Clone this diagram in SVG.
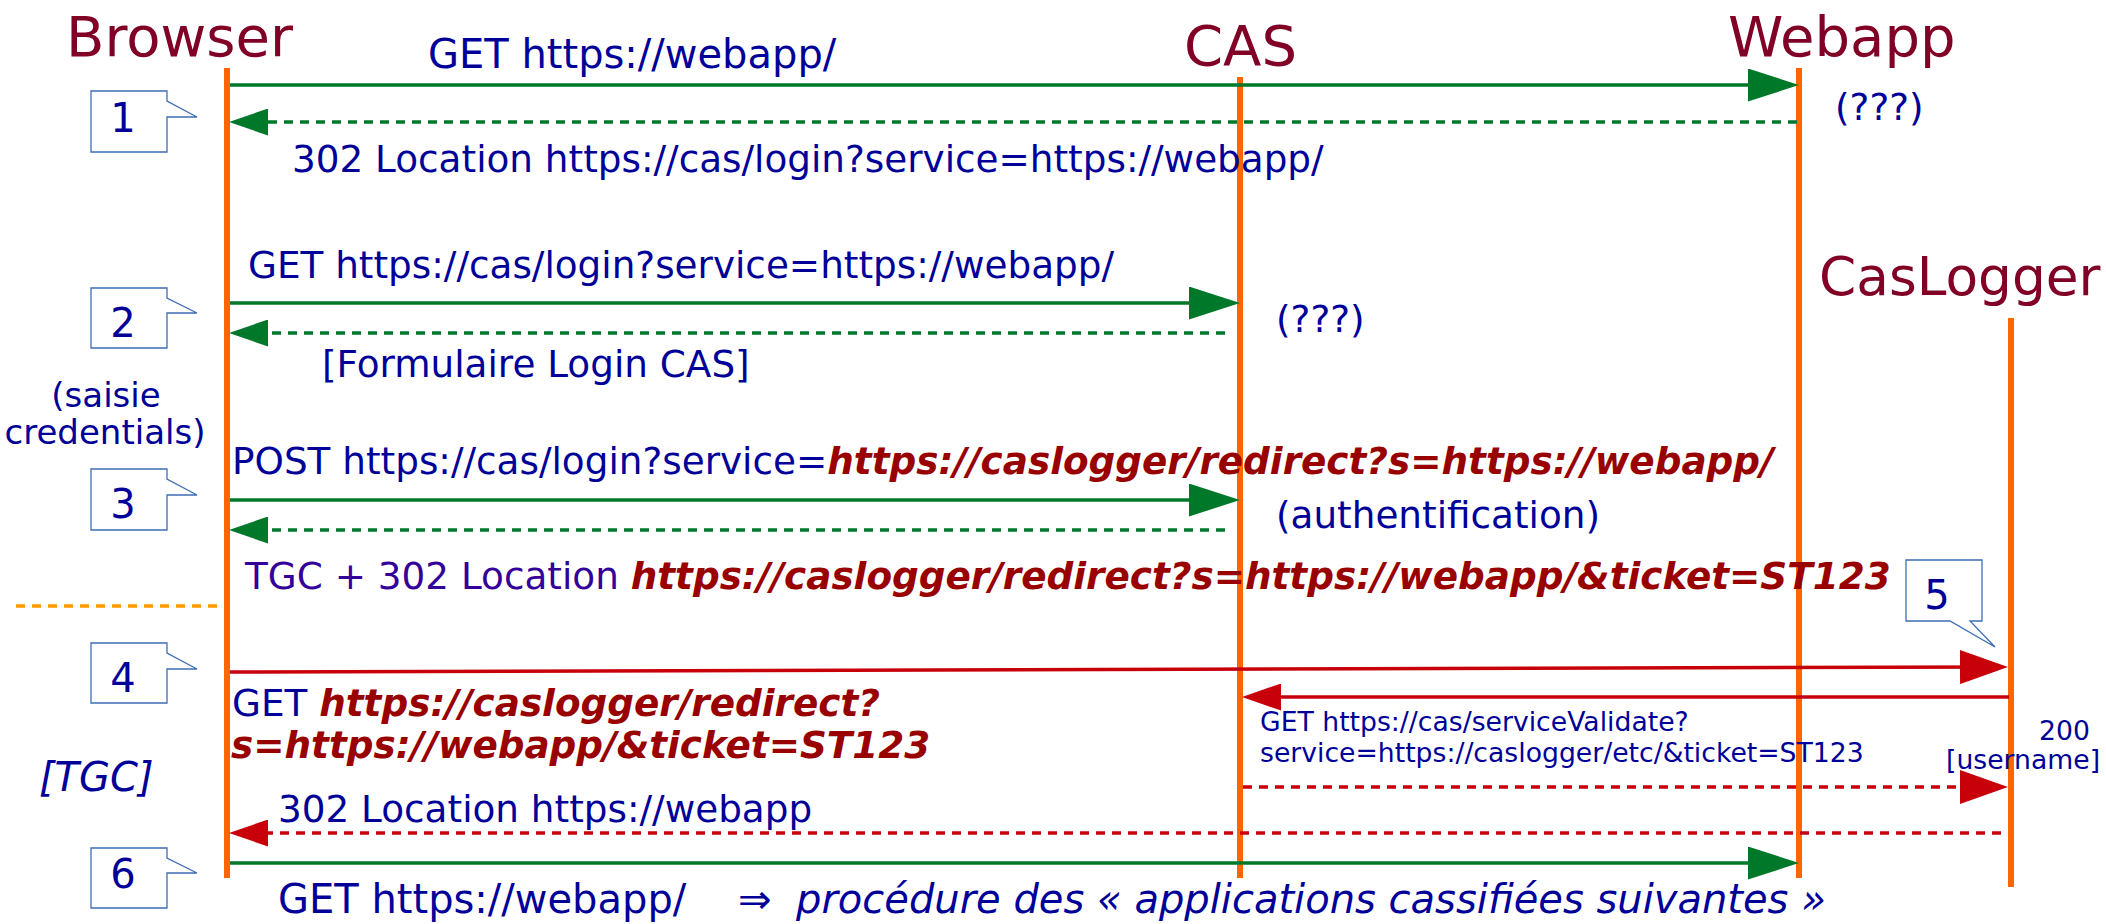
<svg xmlns="http://www.w3.org/2000/svg" width="2106" height="924" viewBox="0 0 2106 924">
<style>
text{font-family:"DejaVu Sans","Liberation Sans",sans-serif}
.title{font-size:56px;fill:#800026}
.lbl{font-size:37.33px;fill:#000099}
.lbl40{font-size:40px;fill:#000099}
.sm{font-size:26.67px;fill:#000099}
.b{font-weight:bold;font-style:italic;fill:#990000}
.it{font-style:italic}
.pur{fill:#330099}
.life{stroke:#ff6600;stroke-width:6;fill:none}
.g{stroke:#00782a;stroke-width:3.5;fill:none}
.r{stroke:#c8000a;stroke-width:3.5;fill:none}
.d{stroke-dasharray:9,7}
.call{fill:#fff;stroke:#3d6eb4;stroke-width:1.3}
.num{font-size:40px;fill:#000099;text-anchor:middle}
</style>
<defs>
<marker id="gR" markerUnits="userSpaceOnUse" markerWidth="51" markerHeight="33" refX="41" refY="16.5" orient="auto"><path d="M0,0 L51,16.5 L0,33 z" fill="#00782a"/></marker>
<marker id="gL" markerUnits="userSpaceOnUse" markerWidth="39" markerHeight="27" refX="31" refY="13.5" orient="auto"><path d="M0,0 L39,13.5 L0,27 z" fill="#00782a"/></marker>
<marker id="rR" markerUnits="userSpaceOnUse" markerWidth="48" markerHeight="34" refX="38" refY="17" orient="auto"><path d="M0,0 L48,17 L0,34 z" fill="#c8000a"/></marker>
<marker id="rL" markerUnits="userSpaceOnUse" markerWidth="39" markerHeight="27" refX="31" refY="13.5" orient="auto"><path d="M0,0 L39,13.5 L0,27 z" fill="#c8000a"/></marker>
</defs>

<g id="browser"><text class="title" x="66" y="56">Browser</text><line class="life" x1="227" y1="68" x2="227" y2="878"/></g>
<g id="cas"><text class="title" x="1184" y="65">CAS</text><line class="life" x1="1240" y1="77" x2="1240" y2="878"/></g>
<g id="webapp"><text class="title" x="1728" y="56">Webapp</text><line class="life" x1="1799" y1="68" x2="1799" y2="878"/></g>
<g id="caslogger"><text class="title" x="1819" y="295" style="font-size:53.33px">CasLogger</text><line class="life" x1="2011" y1="318" x2="2011" y2="887"/></g>

<g id="connectors">
<line class="g" x1="230" y1="85" x2="1789" y2="85" marker-end="url(#gR)"/>
<line class="g d" x1="1797" y1="122" x2="237" y2="122" marker-end="url(#gL)"/>
<line class="g" x1="230" y1="303" x2="1230" y2="303" marker-end="url(#gR)"/>
<line class="g d" x1="1225" y1="333" x2="237" y2="333" marker-end="url(#gL)"/>
<line class="g" x1="230" y1="500" x2="1230" y2="500" marker-end="url(#gR)"/>
<line class="g d" x1="1225" y1="530" x2="237" y2="530" marker-end="url(#gL)"/>
<line class="r" x1="230" y1="672" x2="1998" y2="667" marker-end="url(#rR)"/>
<line class="r" x1="2009" y1="697" x2="1250" y2="697" marker-end="url(#rL)"/>
<line class="r d" x1="1243" y1="787" x2="1998" y2="787" marker-end="url(#rR)"/>
<line class="r d" x1="2001" y1="833" x2="237" y2="833" marker-end="url(#rL)"/>
<line class="g" x1="230" y1="863" x2="1789" y2="863" marker-end="url(#gR)"/>
<line stroke="#ff9900" stroke-width="3.5" stroke-dasharray="9,7" x1="16" y1="606" x2="224" y2="606"/>
</g>

<g id="callout1"><path class="call" d="M91,91 H167 V101 L197,117 H167 V152 H91 Z"/><text class="num" x="123" y="132">1</text></g>
<g id="callout2"><path class="call" d="M91,288 H167 V298 L197,313 H167 V348 H91 Z"/><text class="num" x="123" y="337">2</text></g>
<g id="callout3"><path class="call" d="M91,469 H167 V479 L197,495 H167 V530 H91 Z"/><text class="num" x="123" y="518">3</text></g>
<g id="callout4"><path class="call" d="M91,643 H167 V653 L197,669 H167 V703 H91 Z"/><text class="num" x="123" y="692">4</text></g>
<g id="callout5"><path class="call" d="M1906,560 H1982 V621 H1970 L1995,647 L1950,621 H1906 Z"/><text class="num" x="1937" y="609">5</text></g>
<g id="callout6"><path class="call" d="M91,848 H167 V858 L197,873 H167 V908 H91 Z"/><text class="num" x="123" y="888">6</text></g>

<g id="labels">
<text class="lbl40" x="428" y="68">GET https://webapp/</text>
<text class="lbl" x="1835" y="120">(???)</text>
<text class="lbl" x="292" y="172">302 Location https://cas/login?service=https://webapp/</text>
<text class="lbl" x="248" y="278">GET https://cas/login?service=https://webapp/</text>
<text class="lbl" x="1276" y="332">(???)</text>
<text class="lbl" x="322" y="377">[Formulaire Login CAS]</text>
<text class="lbl" style="font-size:34px" text-anchor="middle" x="106" y="407">(saisie</text>
<text class="lbl" style="font-size:34px" text-anchor="middle" x="105" y="444">credentials)</text>
<text class="lbl" x="232" y="474">POST https://cas/login?service=<tspan class="b">https://caslogger/redirect?s=https://webapp/</tspan></text>
<text class="lbl" x="1276" y="528">(authentification)</text>
<text class="lbl" x="245" y="589"><tspan class="pur">TGC + 302 Location </tspan><tspan class="b">https://caslogger/redirect?s=https://webapp/&amp;ticket=ST123</tspan></text>
<text class="lbl" x="232" y="716">GET <tspan class="b">https://caslogger/redirect?</tspan></text>
<text class="lbl" x="231" y="758"><tspan class="b">s=https://webapp/&amp;ticket=ST123</tspan></text>
<text class="lbl40 it" x="39" y="791">[TGC]</text>
<text class="sm" x="1260" y="731">GET https://cas/serviceValidate?</text>
<text class="sm" x="1260" y="762">service=https://caslogger/etc/&amp;ticket=ST123</text>
<text class="sm" x="2039" y="740">200</text>
<text class="sm" x="1946" y="769">[username]</text>
<text class="lbl" x="278" y="822">302 Location https://webapp</text>
<text class="lbl40" x="278" y="913">GET https://webapp/</text>
<text class="lbl40" x="738" y="913">⇒</text>
<text class="lbl40 it" x="796" y="913">procédure des « applications cassifiées suivantes »</text>
</g>
</svg>
